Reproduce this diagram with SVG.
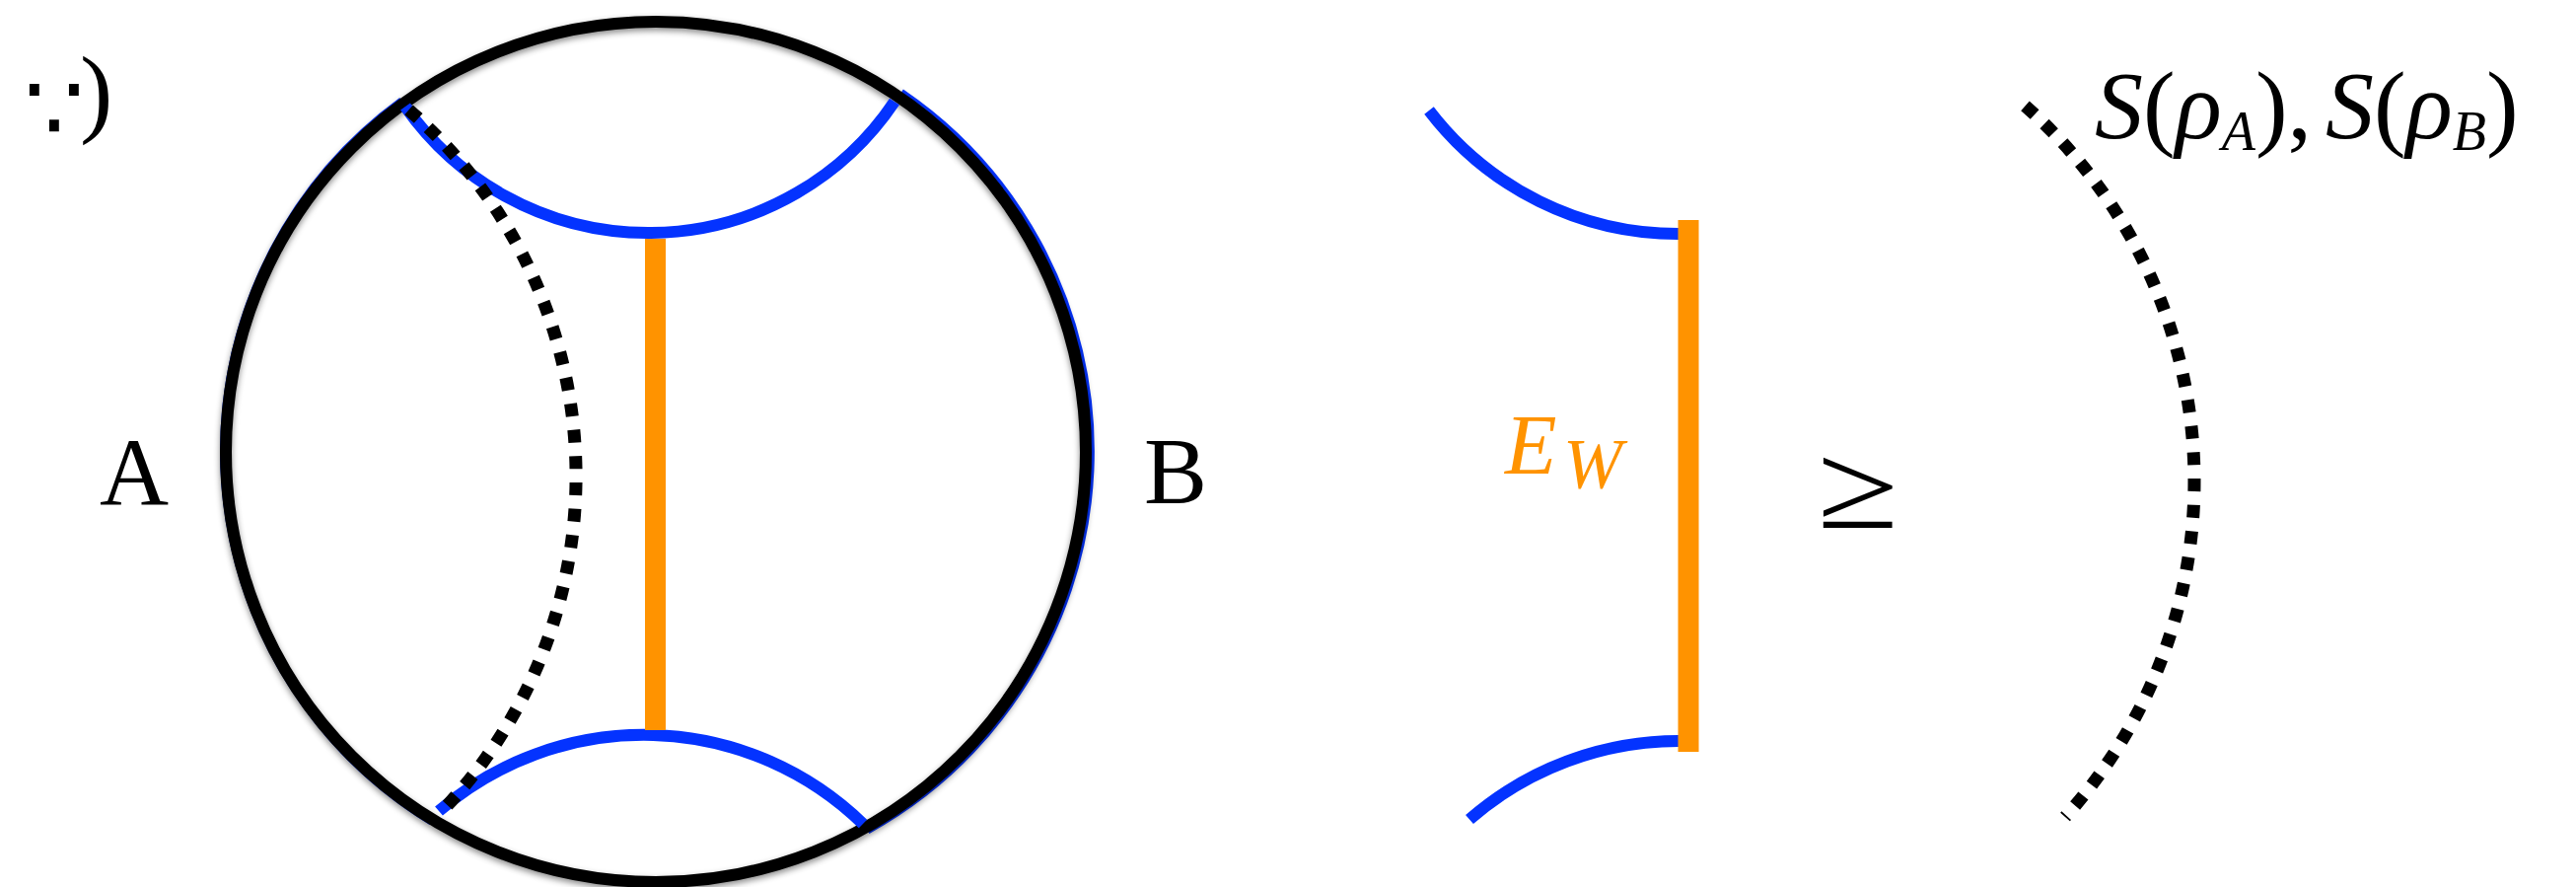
<svg xmlns="http://www.w3.org/2000/svg" width="2612" height="899" viewBox="0 0 2612 899">
  <defs>
    <filter id="shadow" x="-10%" y="-10%" width="120%" height="120%">
      <feDropShadow dx="0" dy="3" stdDeviation="3" flood-color="#000" flood-opacity="0.45"/>
    </filter>
    <style>
      .bulk { fill: none; stroke: #000; stroke-width: 12; }
      .bnd { fill: none; stroke: #0433FF; stroke-width: 11; }
      .rt { fill: none; stroke: #0433FF; stroke-width: 12; stroke-linecap: butt; }
      .ew { stroke: #FF9300; stroke-width: 21; stroke-linecap: butt; }
      .dots { fill: none; stroke: #000; stroke-width: 13; stroke-dasharray: 13 13.7; stroke-linecap: butt; }
    </style>
  </defs>

  <g id="boundary-regions">
    <path id="region-A" class="bnd" d="M 408.5 103.5 A 438 438 0 0 0 438.4 831.3"/>
    <path id="region-B" class="bnd" d="M 912.8 95 A 438 438 0 0 1 878.8 840.1"/>
  </g>

  <g id="bulk">
    <circle class="bulk" cx="665" cy="458" r="436" filter="url(#shadow)"/>
  </g>

  <g id="connectors">
    <path id="rt-top" class="rt" d="M 411 108 A 300.9 300.9 0 0 0 907 103"/>
    <path id="rt-bottom" class="rt" d="M 445 822 A 318.7 318.7 0 0 1 875 835"/>
    <line id="ew-left" class="ew" x1="664.5" y1="242" x2="664.5" y2="740"/>
    <path id="entropy-curve-left" class="dots" stroke-dashoffset="-2" d="M 413 110 A 491.6 491.6 0 0 1 452 818"/>
  </g>

  <g id="label-smiley">
    <text x="24" y="143" font-size="96" font-family="'DejaVu Serif', 'DejaVu Sans', serif" fill="#000">∵<tspan dx="-4" dy="-17.4" font-size="100" font-family="'Liberation Serif', 'DejaVu Serif', serif">)</tspan></text>
  </g>
  <g id="label-A">
    <text x="101" y="511" font-size="97" font-family="'Liberation Serif', 'DejaVu Serif', serif" fill="#000">A</text>
  </g>
  <g id="label-B">
    <text x="1160" y="510" font-size="96" font-family="'Liberation Serif', 'DejaVu Serif', serif" fill="#000">B</text>
  </g>

  <g id="right-EW">
    <path class="rt" d="M 1449 112 A 318.5 318.5 0 0 0 1702 237"/>
    <path class="rt" d="M 1490 830.5 A 324 324 0 0 1 1702 751"/>
    <line class="ew" x1="1712" y1="223" x2="1712" y2="762"/>
    <text x="1526" y="480" font-size="86" font-style="italic" font-family="'Liberation Serif', 'DejaVu Serif', serif" fill="#FF9300">E<tspan x="1585" y="494" font-size="72">W</tspan></text>
  </g>

  <g id="geq" transform="translate(1884 533) scale(1 0.83)">
    <text x="0" y="2" font-size="150" text-anchor="middle" font-family="'Liberation Serif', 'DejaVu Serif', serif" fill="#000">≥</text>
  </g>

  <g id="right-S">
    <path class="dots" stroke-dashoffset="-2" d="M 2052 106 A 507.6 507.6 0 0 1 2094 828"/>
    <text x="2124" y="140" font-size="98" font-family="'Liberation Serif', 'DejaVu Serif', serif" fill="#000"><tspan font-style="italic">S</tspan>(<tspan font-style="italic">ρ</tspan><tspan font-style="italic" font-size="56" dy="12">A</tspan><tspan dy="-12">),</tspan><tspan dx="14" font-style="italic">S</tspan>(<tspan font-style="italic">ρ</tspan><tspan font-style="italic" font-size="56" dy="12">B</tspan><tspan dy="-12">)</tspan></text>
  </g>
</svg>
